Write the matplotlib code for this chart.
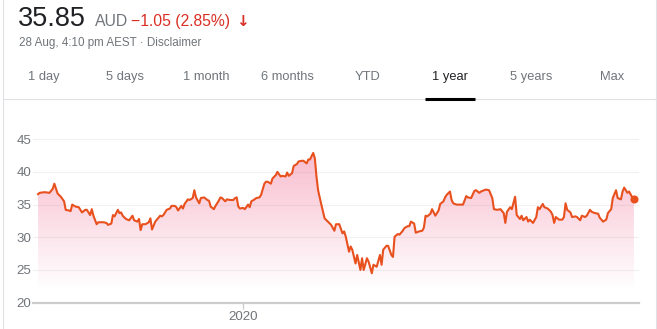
import numpy as np
import matplotlib
matplotlib.use("Agg")
import matplotlib.pyplot as plt
import matplotlib.dates as mdates
from matplotlib.lines import Line2D

# -------------------------------------------------------------
# Data (1 year of closing prices, AUD)
# -------------------------------------------------------------
start_date = np.datetime64("2019-08-28")

days = [0, 1, 4, 7, 9, 10, 12, 14, 16, 17, 19, 20, 21, 23, 25, 27, 29, 30, 32, 33,
        34, 36, 37, 40, 42, 43, 45, 46, 47, 49, 50, 51, 52, 54, 56, 58, 59, 61, 62, 63,
        64, 66, 68, 69, 70, 72, 73, 75, 76, 77, 79, 81, 82, 84, 85, 86, 88, 89, 90, 92,
        93, 95, 96, 97, 99, 100, 102, 104, 105, 106, 108, 109, 111, 112, 113, 115, 116, 118, 120, 121,
        122, 123, 124, 126, 127, 129, 130, 131, 133, 134, 136, 137, 139, 140, 141, 143, 144, 146, 147, 149,
        150, 152, 153, 154, 156, 157, 159, 160, 162, 163, 165, 166, 167, 169, 170, 171, 172, 174, 176, 178,
        180, 182, 183, 185, 187, 188, 189, 191, 192, 193, 195, 196, 198, 199, 200, 202, 203, 205, 206, 208,
        210, 211, 212, 214, 215, 217, 218, 219, 221, 222, 224, 225, 227, 228, 229, 231, 232, 234, 236, 237,
        238, 239, 241, 242, 244, 246, 247, 249, 250, 251, 253, 254, 255, 257, 259, 261, 263, 264, 266, 268,
        269, 271, 272, 274, 275, 277, 279, 280, 282, 284, 286, 287, 288, 290, 291, 293, 294, 296, 297, 298,
        300, 301, 302, 304, 306, 307, 308, 310, 311, 313, 315, 316, 317, 318, 320, 322, 323, 324, 325, 327,
        328, 330, 331, 333, 334, 336, 337, 339, 340, 342, 344, 345, 347, 349, 350, 352, 353, 355, 356, 358,
        359, 360, 362, 363, 365, 366]

prices = [36.6, 36.8, 36.9, 36.8, 37.4, 38.2, 36.7, 36.2, 35.5, 34.2, 34.1, 34.0, 35.0, 34.7, 34.6, 33.8, 34.2, 34.2, 33.4, 34.3,
          33.3, 32.0, 32.3, 32.3, 32.2, 31.9, 32.1, 33.4, 33.2, 34.2, 33.7, 33.8, 33.3, 32.8, 32.6, 33.3, 32.6, 32.4, 32.8, 31.1,
          32.0, 32.0, 32.3, 32.9, 31.2, 32.4, 32.7, 33.3, 33.2, 33.4, 34.2, 34.4, 34.8, 34.8, 34.6, 34.1, 34.8, 34.4, 35.1, 35.8,
          35.7, 36.0, 37.2, 36.1, 35.2, 36.0, 36.1, 35.7, 35.6, 34.7, 34.3, 34.8, 35.6, 36.1, 36.0, 35.5, 35.8, 35.7, 35.7, 36.0,
          36.1, 34.7, 34.4, 34.5, 34.3, 35.0, 34.6, 35.5, 35.8, 36.0, 36.1, 36.5, 38.2, 38.5, 38.5, 38.2, 39.0, 39.5, 40.0, 39.3,
          39.4, 39.3, 39.9, 39.4, 39.8, 40.9, 41.2, 41.6, 41.7, 41.7, 41.3, 41.9, 41.9, 42.9, 42.1, 39.3, 37.2, 35.0, 32.9, 32.4,
          31.9, 31.0, 32.0, 32.0, 30.6, 30.9, 30.1, 27.8, 28.6, 28.1, 26.0, 27.3, 25.0, 26.8, 25.0, 26.8, 26.3, 24.5, 25.8, 25.5,
          27.3, 25.8, 28.1, 28.7, 28.7, 27.3, 27.0, 30.1, 30.5, 30.4, 31.0, 31.4, 31.7, 31.7, 32.4, 32.1, 30.7, 30.9, 31.0, 31.5,
          33.3, 33.2, 33.6, 34.3, 33.3, 34.1, 35.1, 35.5, 36.1, 36.5, 37.0, 35.7, 35.2, 35.0, 35.0, 35.0, 36.3, 36.1, 36.0, 37.1,
          37.2, 36.8, 37.0, 37.2, 37.3, 37.2, 36.0, 34.3, 34.2, 34.3, 33.7, 32.2, 33.9, 34.6, 34.3, 36.2, 33.4, 32.8, 33.3, 32.6,
          33.1, 32.4, 32.7, 32.2, 33.1, 34.6, 34.3, 35.1, 34.6, 34.4, 33.9, 33.4, 32.2, 33.1, 32.7, 32.7, 33.1, 35.2, 34.2, 33.8,
          33.1, 33.2, 33.1, 32.6, 33.3, 33.1, 33.3, 34.2, 33.9, 33.7, 33.6, 33.0, 32.4, 32.7, 33.7, 34.3, 36.0, 37.2, 36.0, 35.8,
          37.0, 37.6, 36.8, 37.0, 36.1, 35.85]

y_ticks = [20, 25, 30, 35, 40, 45]
x_tick_dates = ["2020-01-01"]
x_tick_labels = ["2020"]

tabs = ["1 day", "5 days", "1 month", "6 months", "YTD", "1 year", "5 years", "Max"]
selected_tab = "1 year"

price_text = "35.85"
currency_text = "AUD"
change_text = "\u22121.05 (2.85%)"
date_text = "28 Aug, 4:10 pm AEST \u00b7 Disclaimer"

# -------------------------------------------------------------
# Styles
# -------------------------------------------------------------
W, H = 657, 329
LINE_COLOR = "#e8501e"
GREY_TEXT = "#70757a"
DARK_TEXT = "#202124"
RED_TEXT = "#d93025"
BORDER = "#dfe1e5"
FONT = ["Liberation Sans", "DejaVu Sans"]

plt.rcParams["font.family"] = FONT


def fx(px):
    return px / W


def fy(py):
    return 1 - py / H


fig = plt.figure(figsize=(W / 100, H / 100), dpi=100)
fig.patch.set_facecolor("white")

# -------------------------------------------------------------
# Header
# -------------------------------------------------------------
fig.text(fx(18), fy(26), price_text, fontsize=19.5, color=DARK_TEXT, va="baseline")
fig.text(fx(95), fy(26), currency_text, fontsize=11.3, color=GREY_TEXT, va="baseline")
fig.text(fx(131), fy(26), change_text, fontsize=11.3, color=RED_TEXT, va="baseline")
fig.text(fx(236), fy(26), "\u2193", fontsize=11, color=RED_TEXT, va="baseline",
         fontweight="bold", family=["DejaVu Sans"])
fig.text(fx(19), fy(46), date_text, fontsize=8.4, color=GREY_TEXT, va="baseline")

tab_centers = [44, 125, 206, 287, 368, 450, 531, 612]
for name, cx in zip(tabs, tab_centers):
    col = DARK_TEXT if name == selected_tab else GREY_TEXT
    fig.text(fx(cx), fy(80), name, fontsize=9.3, color=col, ha="center", va="baseline")

# card borders and separator
fig.add_artist(Line2D([fx(2.5), fx(2.5)], [0, 1], color=BORDER, lw=0.8))
fig.add_artist(Line2D([fx(655.5), fx(655.5)], [0, 1], color=BORDER, lw=0.8))
fig.add_artist(Line2D([fx(3), fx(655)], [fy(98.7), fy(98.7)], color=BORDER, lw=0.8))
sel_cx = tab_centers[tabs.index(selected_tab)]
fig.add_artist(Line2D([fx(sel_cx - 25), fx(sel_cx + 25)], [fy(98.6), fy(98.6)],
                      color="black", lw=2.2, solid_capstyle="butt"))

# -------------------------------------------------------------
# Chart
# -------------------------------------------------------------
dates = start_date + np.array(days).astype("timedelta64[D]")
dates = dates.astype("datetime64[D]").astype(object)
prices = np.array(prices)

y_lo, y_hi = 20, 46
ax_left, ax_right = 33, 639
ax_bottom = 302.7
ax_top = ax_bottom - (y_hi - y_lo) * 6.54
ax = fig.add_axes([fx(ax_left), fy(ax_bottom), fx(ax_right - ax_left), (ax_bottom - ax_top) / H])

x_num = mdates.date2num(dates)
pad_left, pad_right = 3.1, 3.1

# gradient fill under the line
grad = np.linspace(0, 1, 256)[:, None]
alpha = np.clip((grad * (y_hi - y_lo) + y_lo - 22) / (43 - 22), 0, 1) * 0.42
rgba = np.zeros((256, 1, 4))
rgba[..., 0] = 0.94
rgba[..., 1] = 0.38
rgba[..., 2] = 0.55
rgba[..., 3] = alpha
img = ax.imshow(rgba, extent=[x_num[0], x_num[-1], y_lo, y_hi], origin="lower",
                aspect="auto", zorder=1, interpolation="bilinear")
poly = ax.fill_between(x_num, prices, y_lo, color="none", lw=0)
img.set_clip_path(poly.get_paths()[0], transform=ax.transData)

for t in y_ticks[1:]:
    ax.axhline(t, color="#f1f1f1", lw=0.9, zorder=0.5)

ax.plot(x_num, prices, color=LINE_COLOR, lw=1.5, zorder=3, solid_joinstyle="round")
ax.scatter([x_num[-1]], [prices[-1]], s=34, color=LINE_COLOR, zorder=4, linewidths=0)

ax.set_xlim(x_num[0] - pad_left, x_num[-1] + pad_right)
ax.set_ylim(y_lo, y_hi)

for side in ["top", "right", "left"]:
    ax.spines[side].set_visible(False)
ax.spines["bottom"].set_color("#cccccc")
ax.spines["bottom"].set_linewidth(1.6)

ax.set_yticks(y_ticks)
ax.set_yticklabels([str(t) for t in y_ticks])
ax.tick_params(axis="y", length=0, pad=1, labelsize=9.6, labelcolor=GREY_TEXT)

ax.set_xticks(mdates.date2num([np.datetime64(d).astype(object) for d in x_tick_dates]))
ax.set_xticklabels(x_tick_labels)
ax.tick_params(axis="x", length=4, width=1, color="#cccccc", pad=2, labelsize=9.6,
               labelcolor=GREY_TEXT)
ax.set_facecolor("none")

fig.savefig("out.png", dpi=100, facecolor="white")
